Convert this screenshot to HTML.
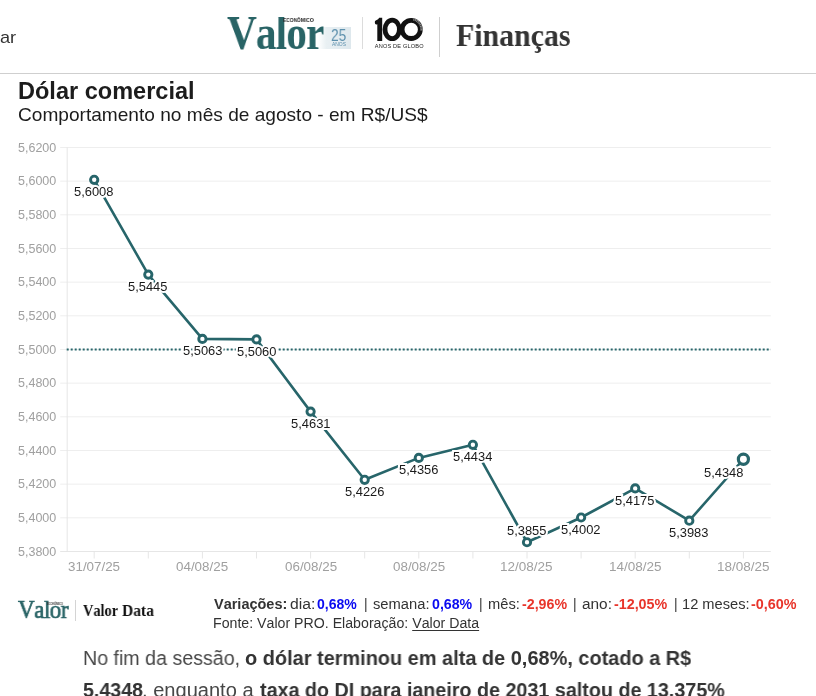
<!DOCTYPE html>
<html><head><meta charset="utf-8"><title>Valor</title>
<style>
html,body{margin:0;padding:0;background:#fff;}
html{overflow:hidden;width:816px;height:696px;}
body{width:816px;height:696px;overflow:hidden;position:relative;font-family:"Liberation Sans",sans-serif;color:#1a1a1a;}
.abs{position:absolute;white-space:nowrap;line-height:1;font-kerning:none;will-change:transform;}
.hdrline{position:absolute;left:0;top:73px;width:816px;height:1px;background:#cfcfcf;}
svg text{font-family:"Liberation Sans",sans-serif;}
.serif{font-family:"Liberation Serif",serif;}
b{font-weight:bold;}
</style></head><body>
<!-- header -->
<div class="abs" style="left:318px;top:27px;width:33px;height:21.6px;background:linear-gradient(90deg,rgba(232,239,242,0) 0%,#e9f0f3 25%,#dee8ed 100%);"></div>
<div class="abs" id="valor" style="left:227.34px;top:7px;font-family:'Liberation Serif',serif;font-size:47.5px;line-height:52px;color:#296466;transform-origin:0 0;transform:scaleX(0.8686);letter-spacing:-1px;"><b>Valor</b></div>
<div style="position:absolute;left:272px;top:10px;width:13px;height:6.6px;background:#fff;"></div>
<div class="abs" id="econ" style="left:282.87px;top:17px;font-family:'Liberation Sans',sans-serif;font-size:5.4px;line-height:6px;color:#2a2a2a;transform-origin:0 0;transform:scaleX(0.9006);"><b>ECONÔMICO</b></div>
<div class="abs" id="n25" style="left:331.21px;top:27px;font-family:'Liberation Sans',sans-serif;font-size:15.8px;line-height:17px;color:#5d90ad;transform-origin:0 0;transform:scaleX(0.8687);">25</div>
<div class="abs" id="anos" style="left:331.99px;top:42px;font-family:'Liberation Sans',sans-serif;font-size:4.6px;line-height:5px;color:#5d90ad;transform-origin:0 0;transform:scaleX(1.0768);">ANOS</div>
<div class="abs" style="left:362px;top:17px;width:1px;height:32px;background:#dcdcdc;"></div>
<svg class="abs" style="left:370px;top:12px;" width="60" height="42" viewBox="370 12 60 42">
  <path d="M374.8 22.2 Q374.6 20.6 376.2 20.2 Q378.4 19.6 379.2 17.8 L382.2 17.8 L382.2 41 L377.3 41 L377.3 24.2 Q375 25.4 374.8 22.2 Z" fill="#111"/>
  <ellipse cx="392.2" cy="29.4" rx="7.2" ry="9.2" fill="none" stroke="#111" stroke-width="4.8"/>
  <circle cx="411.2" cy="29.4" r="9.1" fill="none" stroke="#111" stroke-width="4.8"/>
  <path d="M413.34 19.33 A10.3 10.3 0 0 1 421.40 30.83" fill="none" stroke="#8c8c8c" stroke-width="2.4" stroke-dasharray="1.2 0.5"/>
  <text x="374.8" y="48.3" style="font-size:5.6px;fill:#222;letter-spacing:0.18px">ANOS DE GLOBO</text>
</svg>
<div class="abs" style="left:439px;top:17px;width:1px;height:40px;background:#cfcfcf;"></div>
<div class="hdrline"></div>

<!-- chart -->
<svg class="abs" style="left:0;top:0;" width="816" height="600" viewBox="0 0 816 600">
<line x1="60.2" y1="147.50" x2="770.8" y2="147.50" stroke="#eeeeee" stroke-width="1"/>
<line x1="60.2" y1="181.17" x2="770.8" y2="181.17" stroke="#eeeeee" stroke-width="1"/>
<line x1="60.2" y1="214.83" x2="770.8" y2="214.83" stroke="#eeeeee" stroke-width="1"/>
<line x1="60.2" y1="248.50" x2="770.8" y2="248.50" stroke="#eeeeee" stroke-width="1"/>
<line x1="60.2" y1="282.17" x2="770.8" y2="282.17" stroke="#eeeeee" stroke-width="1"/>
<line x1="60.2" y1="315.84" x2="770.8" y2="315.84" stroke="#eeeeee" stroke-width="1"/>
<line x1="60.2" y1="349.50" x2="770.8" y2="349.50" stroke="#eeeeee" stroke-width="1"/>
<line x1="60.2" y1="383.17" x2="770.8" y2="383.17" stroke="#eeeeee" stroke-width="1"/>
<line x1="60.2" y1="416.84" x2="770.8" y2="416.84" stroke="#eeeeee" stroke-width="1"/>
<line x1="60.2" y1="450.50" x2="770.8" y2="450.50" stroke="#eeeeee" stroke-width="1"/>
<line x1="60.2" y1="484.17" x2="770.8" y2="484.17" stroke="#eeeeee" stroke-width="1"/>
<line x1="60.2" y1="517.84" x2="770.8" y2="517.84" stroke="#eeeeee" stroke-width="1"/>
<line x1="60.2" y1="551.50" x2="770.8" y2="551.50" stroke="#e6e6e6" stroke-width="1"/>
<line x1="67.2" y1="147.5" x2="67.2" y2="551.5040000000004" stroke="#e6e6e6" stroke-width="1"/>
<line x1="94.20" y1="551.5040000000004" x2="94.20" y2="558.5040000000004" stroke="#e6e6e6" stroke-width="1"/>
<line x1="148.30" y1="551.5040000000004" x2="148.30" y2="558.5040000000004" stroke="#e6e6e6" stroke-width="1"/>
<line x1="202.40" y1="551.5040000000004" x2="202.40" y2="558.5040000000004" stroke="#e6e6e6" stroke-width="1"/>
<line x1="256.50" y1="551.5040000000004" x2="256.50" y2="558.5040000000004" stroke="#e6e6e6" stroke-width="1"/>
<line x1="310.60" y1="551.5040000000004" x2="310.60" y2="558.5040000000004" stroke="#e6e6e6" stroke-width="1"/>
<line x1="364.70" y1="551.5040000000004" x2="364.70" y2="558.5040000000004" stroke="#e6e6e6" stroke-width="1"/>
<line x1="418.80" y1="551.5040000000004" x2="418.80" y2="558.5040000000004" stroke="#e6e6e6" stroke-width="1"/>
<line x1="472.90" y1="551.5040000000004" x2="472.90" y2="558.5040000000004" stroke="#e6e6e6" stroke-width="1"/>
<line x1="527.00" y1="551.5040000000004" x2="527.00" y2="558.5040000000004" stroke="#e6e6e6" stroke-width="1"/>
<line x1="581.10" y1="551.5040000000004" x2="581.10" y2="558.5040000000004" stroke="#e6e6e6" stroke-width="1"/>
<line x1="635.20" y1="551.5040000000004" x2="635.20" y2="558.5040000000004" stroke="#e6e6e6" stroke-width="1"/>
<line x1="689.30" y1="551.5040000000004" x2="689.30" y2="558.5040000000004" stroke="#e6e6e6" stroke-width="1"/>
<line x1="743.40" y1="551.5040000000004" x2="743.40" y2="558.5040000000004" stroke="#e6e6e6" stroke-width="1"/>
<line x1="66.7" y1="349.50" x2="770.8" y2="349.50" stroke="#27656a" stroke-width="2" stroke-dasharray="2 2"/>
<polyline points="94.20,179.82 148.30,274.59 202.40,338.90 256.50,339.40 310.60,411.62 364.70,479.79 418.80,457.91 472.90,444.78 527.00,542.25 581.10,517.50 635.20,488.38 689.30,520.70 743.40,459.26" fill="none" stroke="#27656a" stroke-width="2.6" stroke-linejoin="round" stroke-linecap="round"/>
<circle cx="94.20" cy="179.82" r="3.65" fill="#fff" stroke="#27656a" stroke-width="2.9"/>
<circle cx="148.30" cy="274.59" r="3.65" fill="#fff" stroke="#27656a" stroke-width="2.9"/>
<circle cx="202.40" cy="338.90" r="3.65" fill="#fff" stroke="#27656a" stroke-width="2.9"/>
<circle cx="256.50" cy="339.40" r="3.65" fill="#fff" stroke="#27656a" stroke-width="2.9"/>
<circle cx="310.60" cy="411.62" r="3.65" fill="#fff" stroke="#27656a" stroke-width="2.9"/>
<circle cx="364.70" cy="479.79" r="3.65" fill="#fff" stroke="#27656a" stroke-width="2.9"/>
<circle cx="418.80" cy="457.91" r="3.65" fill="#fff" stroke="#27656a" stroke-width="2.9"/>
<circle cx="472.90" cy="444.78" r="3.65" fill="#fff" stroke="#27656a" stroke-width="2.9"/>
<circle cx="527.00" cy="542.25" r="3.65" fill="#fff" stroke="#27656a" stroke-width="2.9"/>
<circle cx="581.10" cy="517.50" r="3.65" fill="#fff" stroke="#27656a" stroke-width="2.9"/>
<circle cx="635.20" cy="488.38" r="3.65" fill="#fff" stroke="#27656a" stroke-width="2.9"/>
<circle cx="689.30" cy="520.70" r="3.65" fill="#fff" stroke="#27656a" stroke-width="2.9"/>
<circle cx="743.40" cy="459.26" r="5.05" fill="#fff" stroke="#27656a" stroke-width="3.2"/>
</svg>
<div class="abs"  style="left:18.40px;top:141px;font-family:'Liberation Sans',sans-serif;font-size:12.3px;line-height:14px;color:#a0a0a0;transform-origin:0 0;transform:scaleX(1.0178);">5,6200</div>
<div class="abs"  style="left:18.40px;top:174px;font-family:'Liberation Sans',sans-serif;font-size:12.3px;line-height:14px;color:#a0a0a0;transform-origin:0 0;transform:scaleX(1.0178);">5,6000</div>
<div class="abs"  style="left:18.40px;top:208px;font-family:'Liberation Sans',sans-serif;font-size:12.3px;line-height:14px;color:#a0a0a0;transform-origin:0 0;transform:scaleX(1.0178);">5,5800</div>
<div class="abs"  style="left:18.40px;top:242px;font-family:'Liberation Sans',sans-serif;font-size:12.3px;line-height:14px;color:#a0a0a0;transform-origin:0 0;transform:scaleX(1.0178);">5,5600</div>
<div class="abs"  style="left:18.40px;top:275px;font-family:'Liberation Sans',sans-serif;font-size:12.3px;line-height:14px;color:#a0a0a0;transform-origin:0 0;transform:scaleX(1.0178);">5,5400</div>
<div class="abs"  style="left:18.40px;top:309px;font-family:'Liberation Sans',sans-serif;font-size:12.3px;line-height:14px;color:#a0a0a0;transform-origin:0 0;transform:scaleX(1.0178);">5,5200</div>
<div class="abs"  style="left:18.40px;top:343px;font-family:'Liberation Sans',sans-serif;font-size:12.3px;line-height:14px;color:#a0a0a0;transform-origin:0 0;transform:scaleX(1.0178);">5,5000</div>
<div class="abs"  style="left:18.40px;top:376px;font-family:'Liberation Sans',sans-serif;font-size:12.3px;line-height:14px;color:#a0a0a0;transform-origin:0 0;transform:scaleX(1.0178);">5,4800</div>
<div class="abs"  style="left:18.40px;top:410px;font-family:'Liberation Sans',sans-serif;font-size:12.3px;line-height:14px;color:#a0a0a0;transform-origin:0 0;transform:scaleX(1.0178);">5,4600</div>
<div class="abs"  style="left:18.40px;top:444px;font-family:'Liberation Sans',sans-serif;font-size:12.3px;line-height:14px;color:#a0a0a0;transform-origin:0 0;transform:scaleX(1.0178);">5,4400</div>
<div class="abs"  style="left:18.40px;top:477px;font-family:'Liberation Sans',sans-serif;font-size:12.3px;line-height:14px;color:#a0a0a0;transform-origin:0 0;transform:scaleX(1.0178);">5,4200</div>
<div class="abs"  style="left:18.40px;top:511px;font-family:'Liberation Sans',sans-serif;font-size:12.3px;line-height:14px;color:#a0a0a0;transform-origin:0 0;transform:scaleX(1.0178);">5,4000</div>
<div class="abs"  style="left:18.40px;top:545px;font-family:'Liberation Sans',sans-serif;font-size:12.3px;line-height:14px;color:#a0a0a0;transform-origin:0 0;transform:scaleX(1.0178);">5,3800</div>
<div class="abs"  style="left:68.19px;top:560px;font-family:'Liberation Sans',sans-serif;font-size:12.3px;line-height:14px;color:#a0a0a0;transform-origin:0 0;transform:scaleX(1.0876);">31/07/25</div>
<div class="abs"  style="left:176.38px;top:560px;font-family:'Liberation Sans',sans-serif;font-size:12.3px;line-height:14px;color:#a0a0a0;transform-origin:0 0;transform:scaleX(1.0878);">04/08/25</div>
<div class="abs"  style="left:284.58px;top:560px;font-family:'Liberation Sans',sans-serif;font-size:12.3px;line-height:14px;color:#a0a0a0;transform-origin:0 0;transform:scaleX(1.0878);">06/08/25</div>
<div class="abs"  style="left:392.78px;top:560px;font-family:'Liberation Sans',sans-serif;font-size:12.3px;line-height:14px;color:#a0a0a0;transform-origin:0 0;transform:scaleX(1.0878);">08/08/25</div>
<div class="abs"  style="left:500.47px;top:560px;font-family:'Liberation Sans',sans-serif;font-size:12.3px;line-height:14px;color:#a0a0a0;transform-origin:0 0;transform:scaleX(1.0985);">12/08/25</div>
<div class="abs"  style="left:608.67px;top:560px;font-family:'Liberation Sans',sans-serif;font-size:12.3px;line-height:14px;color:#a0a0a0;transform-origin:0 0;transform:scaleX(1.0985);">14/08/25</div>
<div class="abs"  style="left:716.87px;top:560px;font-family:'Liberation Sans',sans-serif;font-size:12.3px;line-height:14px;color:#a0a0a0;transform-origin:0 0;transform:scaleX(1.0985);">18/08/25</div>
<div class="abs"  style="left:74.38px;top:185px;font-family:'Liberation Sans',sans-serif;font-size:12.6px;line-height:14px;color:#1a1a1a;transform-origin:0 0;transform:scaleX(1.0244);-webkit-text-stroke:4px #fff;paint-order:stroke fill;">5,6008</div>
<div class="abs"  style="left:128.48px;top:280px;font-family:'Liberation Sans',sans-serif;font-size:12.6px;line-height:14px;color:#1a1a1a;transform-origin:0 0;transform:scaleX(1.0239);-webkit-text-stroke:4px #fff;paint-order:stroke fill;">5,5445</div>
<div class="abs"  style="left:182.58px;top:344px;font-family:'Liberation Sans',sans-serif;font-size:12.6px;line-height:14px;color:#1a1a1a;transform-origin:0 0;transform:scaleX(1.0245);-webkit-text-stroke:4px #fff;paint-order:stroke fill;">5,5063</div>
<div class="abs"  style="left:236.68px;top:345px;font-family:'Liberation Sans',sans-serif;font-size:12.6px;line-height:14px;color:#1a1a1a;transform-origin:0 0;transform:scaleX(1.0229);-webkit-text-stroke:4px #fff;paint-order:stroke fill;">5,5060</div>
<div class="abs"  style="left:290.78px;top:417px;font-family:'Liberation Sans',sans-serif;font-size:12.6px;line-height:14px;color:#1a1a1a;transform-origin:0 0;transform:scaleX(1.0262);-webkit-text-stroke:4px #fff;paint-order:stroke fill;">5,4631</div>
<div class="abs"  style="left:344.88px;top:485px;font-family:'Liberation Sans',sans-serif;font-size:12.6px;line-height:14px;color:#1a1a1a;transform-origin:0 0;transform:scaleX(1.0245);-webkit-text-stroke:4px #fff;paint-order:stroke fill;">5,4226</div>
<div class="abs"  style="left:398.98px;top:463px;font-family:'Liberation Sans',sans-serif;font-size:12.6px;line-height:14px;color:#1a1a1a;transform-origin:0 0;transform:scaleX(1.0245);-webkit-text-stroke:4px #fff;paint-order:stroke fill;">5,4356</div>
<div class="abs"  style="left:453.09px;top:450px;font-family:'Liberation Sans',sans-serif;font-size:12.6px;line-height:14px;color:#1a1a1a;transform-origin:0 0;transform:scaleX(1.0195);-webkit-text-stroke:4px #fff;paint-order:stroke fill;">5,4434</div>
<div class="abs"  style="left:507.18px;top:524px;font-family:'Liberation Sans',sans-serif;font-size:12.6px;line-height:14px;color:#1a1a1a;transform-origin:0 0;transform:scaleX(1.0239);-webkit-text-stroke:4px #fff;paint-order:stroke fill;">5,3855</div>
<div class="abs"  style="left:561.28px;top:523px;font-family:'Liberation Sans',sans-serif;font-size:12.6px;line-height:14px;color:#1a1a1a;transform-origin:0 0;transform:scaleX(1.0267);-webkit-text-stroke:4px #fff;paint-order:stroke fill;">5,4002</div>
<div class="abs"  style="left:615.38px;top:494px;font-family:'Liberation Sans',sans-serif;font-size:12.6px;line-height:14px;color:#1a1a1a;transform-origin:0 0;transform:scaleX(1.0239);-webkit-text-stroke:4px #fff;paint-order:stroke fill;">5,4175</div>
<div class="abs"  style="left:669.48px;top:526px;font-family:'Liberation Sans',sans-serif;font-size:12.6px;line-height:14px;color:#1a1a1a;transform-origin:0 0;transform:scaleX(1.0245);-webkit-text-stroke:4px #fff;paint-order:stroke fill;">5,3983</div>
<div class="abs"  style="left:704.28px;top:466px;font-family:'Liberation Sans',sans-serif;font-size:12.6px;line-height:14px;color:#1a1a1a;transform-origin:0 0;transform:scaleX(1.0244);-webkit-text-stroke:4px #fff;paint-order:stroke fill;">5,4348</div>

<!-- footer logo -->
<div class="abs" id="valor2" style="left:18.34px;top:596px;font-family:'Liberation Serif',serif;font-size:24.8px;line-height:27px;color:#296466;transform-origin:0 0;transform:scaleX(0.9264);letter-spacing:-0.5px;-webkit-text-stroke:0.7px #296466;">Valor</div>
<div class="abs"  style="left:47.13px;top:602px;font-family:'Liberation Sans',sans-serif;font-size:3.0px;line-height:4px;color:#333;transform-origin:0 0;transform:scaleX(0.8483);"><b>ECONÔMICO</b></div>
<div style="position:absolute;left:75px;top:600px;width:1px;height:21px;background:#d4d4d4;"></div>

<div class="abs" id="ar" style="left:-0.07px;top:28px;font-family:'Liberation Sans',sans-serif;font-size:16.2px;line-height:18px;color:#333;transform-origin:0 0;transform:scaleX(1.1229);">ar</div>
<div class="abs" id="fin" style="left:456.39px;top:18px;font-family:'Liberation Serif',serif;font-size:31px;line-height:35px;color:#333;transform-origin:0 0;transform:scaleX(0.9637);"><b>Finanças</b></div>
<div class="abs" id="title" style="left:17.63px;top:78px;font-family:'Liberation Sans',sans-serif;font-size:23px;line-height:26px;color:#1c1c1c;transform-origin:0 0;transform:scaleX(1.0230);"><b>Dólar comercial</b></div>
<div class="abs" id="sub" style="left:18.03px;top:104px;font-family:'Liberation Sans',sans-serif;font-size:18.6px;line-height:21px;color:#1c1c1c;transform-origin:0 0;transform:scaleX(1.0269);">Comportamento no mês de agosto - em R$/US$</div>
<div class="abs"  style="left:214.10px;top:597px;font-family:'Liberation Sans',sans-serif;font-size:13.8px;line-height:15px;color:#333;transform-origin:0 0;transform:scaleX(1.0499);"><b>Variações:</b></div>
<div class="abs"  style="left:289.64px;top:597px;font-family:'Liberation Sans',sans-serif;font-size:13.8px;line-height:15px;color:#333;transform-origin:0 0;transform:scaleX(1.1367);">dia:</div>
<div class="abs"  style="left:317.34px;top:597px;font-family:'Liberation Sans',sans-serif;font-size:13.8px;line-height:15px;color:#0b0bf0;transform-origin:0 0;transform:scaleX(1.0178);"><b>0,68%</b></div>
<div class="abs"  style="left:363.50px;top:597px;font-family:'Liberation Sans',sans-serif;font-size:13.8px;line-height:15px;color:#333;transform-origin:0 0;transform:scaleX(0.8940);">|</div>
<div class="abs"  style="left:372.99px;top:597px;font-family:'Liberation Sans',sans-serif;font-size:13.8px;line-height:15px;color:#333;transform-origin:0 0;transform:scaleX(1.0685);">semana:</div>
<div class="abs"  style="left:431.64px;top:597px;font-family:'Liberation Sans',sans-serif;font-size:13.8px;line-height:15px;color:#0b0bf0;transform-origin:0 0;transform:scaleX(1.0283);"><b>0,68%</b></div>
<div class="abs"  style="left:478.50px;top:597px;font-family:'Liberation Sans',sans-serif;font-size:13.8px;line-height:15px;color:#333;transform-origin:0 0;transform:scaleX(0.8940);">|</div>
<div class="abs"  style="left:487.53px;top:597px;font-family:'Liberation Sans',sans-serif;font-size:13.8px;line-height:15px;color:#333;transform-origin:0 0;transform:scaleX(1.0639);">mês:</div>
<div class="abs"  style="left:521.94px;top:597px;font-family:'Liberation Sans',sans-serif;font-size:13.8px;line-height:15px;color:#e8352b;transform-origin:0 0;transform:scaleX(1.0298);"><b>-2,96%</b></div>
<div class="abs"  style="left:573.10px;top:597px;font-family:'Liberation Sans',sans-serif;font-size:13.8px;line-height:15px;color:#333;transform-origin:0 0;transform:scaleX(0.8940);">|</div>
<div class="abs"  style="left:581.85px;top:597px;font-family:'Liberation Sans',sans-serif;font-size:13.8px;line-height:15px;color:#333;transform-origin:0 0;transform:scaleX(1.1154);">ano:</div>
<div class="abs"  style="left:614.44px;top:597px;font-family:'Liberation Sans',sans-serif;font-size:13.8px;line-height:15px;color:#e8352b;transform-origin:0 0;transform:scaleX(1.0357);"><b>-12,05%</b></div>
<div class="abs"  style="left:673.50px;top:597px;font-family:'Liberation Sans',sans-serif;font-size:13.8px;line-height:15px;color:#333;transform-origin:0 0;transform:scaleX(0.8940);">|</div>
<div class="abs"  style="left:681.68px;top:597px;font-family:'Liberation Sans',sans-serif;font-size:13.8px;line-height:15px;color:#333;transform-origin:0 0;transform:scaleX(1.0611);">12 meses:</div>
<div class="abs"  style="left:751.14px;top:597px;font-family:'Liberation Sans',sans-serif;font-size:13.8px;line-height:15px;color:#e8352b;transform-origin:0 0;transform:scaleX(1.0415);"><b>-0,60%</b></div>
<div class="abs" id="var2" style="left:213.44px;top:616px;font-family:'Liberation Sans',sans-serif;font-size:13.8px;line-height:15px;color:#333;transform-origin:0 0;transform:scaleX(1.0266);">Fonte: Valor PRO. Elaboração: <span style="text-decoration:underline;text-underline-offset:1.5px;text-decoration-thickness:1px">Valor Data</span></div>
<div class="abs" id="p1" style="left:83.19px;top:647px;font-family:'Liberation Sans',sans-serif;font-size:20px;line-height:22px;color:#474747;transform-origin:0 0;transform:scaleX(0.9813);">No fim da sessão,</div>
<div class="abs"  style="left:244.52px;top:647px;font-family:'Liberation Sans',sans-serif;font-size:20px;line-height:22px;color:#333;transform-origin:0 0;transform:scaleX(0.9963);"><b>o dólar terminou em alta de 0,68%, cotado a R$</b></div>
<div class="abs" id="p2" style="left:82.90px;top:679px;font-family:'Liberation Sans',sans-serif;font-size:20px;line-height:22px;color:#333;transform-origin:0 0;transform:scaleX(0.9810);"><b>5,4348</b></div>
<div class="abs"  style="left:142.30px;top:679px;font-family:'Liberation Sans',sans-serif;font-size:20px;line-height:22px;color:#474747;transform-origin:0 0;transform:scaleX(1.0035);">, enquanto a</div>
<div class="abs"  style="left:259.76px;top:679px;font-family:'Liberation Sans',sans-serif;font-size:20px;line-height:22px;color:#333;transform-origin:0 0;transform:scaleX(0.9861);"><b>taxa do DI para janeiro de 2031 saltou de 13,375%</b></div>
<div class="abs" id="vdata" style="left:83.34px;top:602px;font-family:'Liberation Serif',serif;font-size:16.2px;line-height:18px;color:#111;transform-origin:0 0;transform:scaleX(0.8858);"><b>Valor</b></div>
<div class="abs"  style="left:121.53px;top:602px;font-family:'Liberation Serif',serif;font-size:16.2px;line-height:18px;color:#111;transform-origin:0 0;transform:scaleX(0.9584);"><b>Data</b></div>
</body></html>
